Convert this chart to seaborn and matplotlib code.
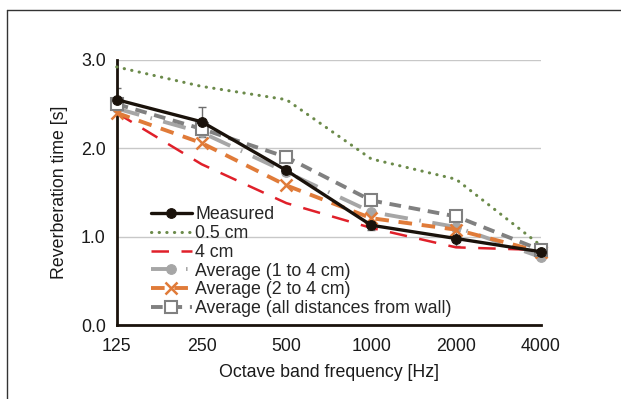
import matplotlib
matplotlib.use("Agg")
import matplotlib.pyplot as plt
from matplotlib.lines import Line2D
import seaborn as sns
import numpy as np
import pandas as pd

freqs = ["125", "250", "500", "1000", "2000", "4000"]
measured = [2.55, 2.30, 1.75, 1.13, 0.98, 0.83]
measured_err = [0.13, 0.17, 0.05, 0.05, 0.08, 0.06]
cm_05 = [2.92, 2.70, 2.55, 1.88, 1.65, 0.90]
cm_4 = [2.40, 1.82, 1.38, 1.10, 0.88, 0.85]
avg_1_4 = [2.45, 2.18, 1.73, 1.28, 1.11, 0.77]
avg_2_4 = [2.40, 2.06, 1.58, 1.21, 1.08, 0.83]
avg_all = [2.50, 2.22, 1.90, 1.41, 1.23, 0.85]

names = ["Measured", "0.5 cm", "4 cm", "Average (1 to 4 cm)",
         "Average (2 to 4 cm)", "Average (all distances from wall)"]
series = [measured, cm_05, cm_4, avg_1_4, avg_2_4, avg_all]

df = pd.DataFrame({
    "x": np.tile(np.arange(len(freqs)), len(names)),
    "value": np.concatenate(series),
    "series": np.repeat(names, len(freqs)),
})

styles = {
    "Measured": dict(color="#1a120b", lw=2.4, marker="o", ms=7, mec="#1a120b",
                     ls="-", zorder=6),
    "0.5 cm": dict(color="#6b8a4a", lw=2.2, marker=None, ls=(0, (0.1, 2.4)), zorder=3,
                   dash_capstyle="round"),
    "4 cm": dict(color="#e0202a", lw=1.8, marker=None, ls=(0, (7, 5)), zorder=3),
    "Average (1 to 4 cm)": dict(color="#a6a6a6", lw=2.8, marker="o", ms=7, mec="#a6a6a6",
                                ls=(0, (6, 3, 0.4, 3)), zorder=4),
    "Average (2 to 4 cm)": dict(color="#e07b39", lw=2.8, marker="x", ms=8, mew=1.8,
                                mec="#e07b39", ls=(0, (3.5, 2.5)), zorder=4),
    "Average (all distances from wall)": dict(color="#808080", lw=2.8, marker="s", ms=8,
                                              mfc="white", mec="#808080", mew=1.5,
                                              ls=(0, (3, 2)), zorder=5),
}

sns.set_style("white")
plt.rcParams["font.family"] = ["Liberation Sans", "DejaVu Sans"]
plt.rcParams["font.size"] = 12.8

fig = plt.figure(figsize=(6.21, 3.99), dpi=100)
ax = fig.add_axes([0.188, 0.185, 0.683, 0.665])

for name in names:
    st = dict(styles[name])
    sub = df[df["series"] == name]
    sns.lineplot(data=sub, x="x", y="value", ax=ax, label=name, clip_on=False, **st)

ax.errorbar(np.arange(len(freqs)), measured, yerr=measured_err, fmt="none",
            ecolor="#6e6e6e", elinewidth=1, capsize=3, zorder=2)

ax.set_xlim(0, len(freqs) - 1)
ax.set_ylim(0, 3.0)
ax.set_xticks(np.arange(len(freqs)))
ax.set_xticklabels(freqs)
ax.set_yticks([0, 1, 2, 3])
ax.set_yticklabels(["0.0", "1.0", "2.0", "3.0"])
ax.yaxis.grid(True, color="#c8c8c8", lw=1)
ax.set_axisbelow(True)
for s in ["top", "right"]:
    ax.spines[s].set_visible(False)
for s in ["left", "bottom"]:
    ax.spines[s].set_color("#1a120b")
    ax.spines[s].set_linewidth(2)
ax.tick_params(axis="y", length=0, pad=8, labelcolor="#1a1a1a", labelsize=12.8)
ax.tick_params(axis="x", length=0, pad=9, labelcolor="#1a1a1a", labelsize=12.8)
ax.set_xlabel("Octave band frequency [Hz]", color="#1a1a1a", labelpad=7, fontsize=12.8)
ax.set_ylabel("Reverberation time [s]", color="#1a1a1a", labelpad=9, fontsize=12.8)

ax.legend(loc="lower left", bbox_to_anchor=(0.055, -0.01), frameon=False,
          handlelength=2.3, handletextpad=0.2, labelspacing=0.1,
          borderaxespad=0.2, fontsize=12.8)

# outer frame (top and left edge of the figure box)
fig.add_artist(Line2D([7 / 621, 7 / 621], [0, 1 - 10 / 399], transform=fig.transFigure,
                      color="#333333", lw=1))
fig.add_artist(Line2D([7 / 621, 1], [1 - 10 / 399, 1 - 10 / 399], transform=fig.transFigure,
                      color="#333333", lw=1))

fig.savefig("out.png", dpi=100)
